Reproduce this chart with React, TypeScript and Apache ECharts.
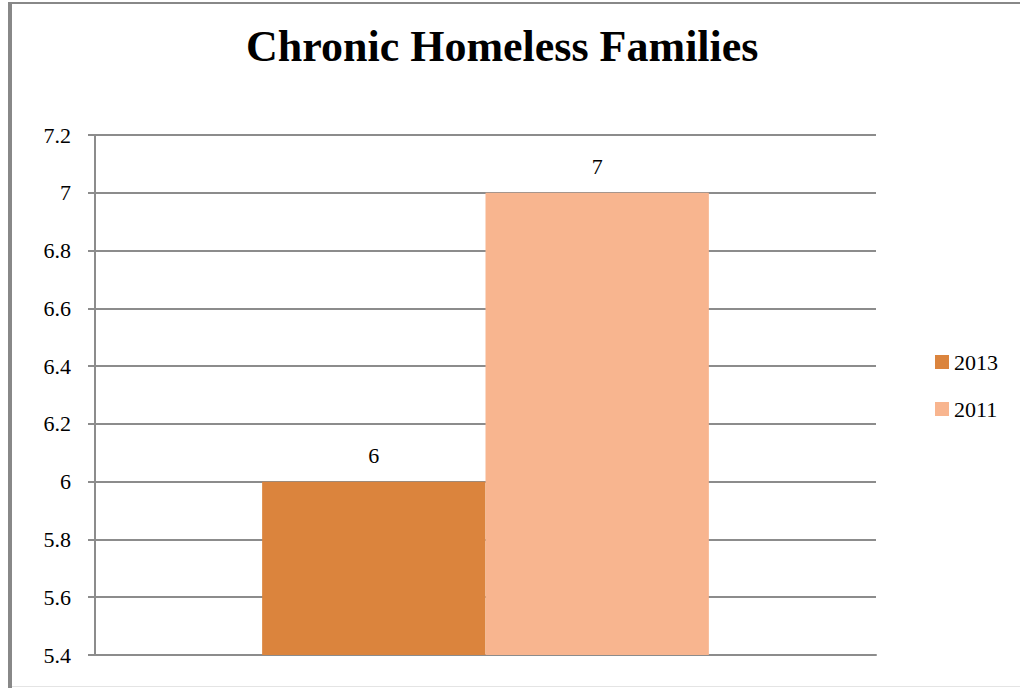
import React, { useEffect, useRef } from "react";
import * as echarts from "echarts";

const categories = [""];
const seriesNames = ["2013", "2011"];
const values2013 = [6];
const values2011 = [7];
const yMin = 5.4;
const yMax = 7.2;
const yInterval = 0.2;

const SERIF = "Liberation Serif";

export default function App() {
  const ref = useRef<HTMLDivElement>(null);
  useEffect(() => {
    if (!ref.current) return;
    const chart = echarts.init(ref.current, null, { renderer: "svg" });
    chart.setOption({
      animation: false,
      backgroundColor: "#ffffff",
      textStyle: { fontFamily: SERIF },
      title: {
        text: "Chronic Homeless Families",
        left: 246,
        top: 24,
        padding: 0,
        textStyle: { fontFamily: SERIF, fontWeight: "bold", fontSize: 44, color: "#000" },
      },
      graphic: [
        { type: "rect", shape: { x: 8, y: 2, width: 4, height: 686 }, style: { fill: "#888888" }, z: 100 },
        { type: "rect", shape: { x: 8, y: 2, width: 1012, height: 2 }, style: { fill: "#888888" }, z: 100 },
        { type: "rect", shape: { x: 12, y: 686, width: 1008, height: 1 }, style: { fill: "#e4e4e4" }, z: 100 },
      ],
      legend: {
        orient: "vertical",
        left: 935,
        top: 351,
        padding: 0,
        itemWidth: 14,
        itemHeight: 14,
        itemGap: 25,
        icon: "rect",
        data: seriesNames,
        textStyle: { fontFamily: SERIF, fontSize: 22, color: "#000" },
      },
      grid: { left: 95, right: 144, top: 135, bottom: 33, containLabel: false },
      xAxis: {
        type: "category",
        data: categories,
        axisLine: { show: true, lineStyle: { color: "#8c8c8c", width: 2 } },
        axisTick: { show: false },
        axisLabel: { show: false },
      },
      yAxis: {
        type: "value",
        min: yMin,
        max: yMax,
        interval: yInterval,
        axisLine: { show: true, lineStyle: { color: "#8c8c8c", width: 2 } },
        axisTick: { show: true, length: 7, lineStyle: { color: "#8c8c8c", width: 2 } },
        splitLine: { show: true, lineStyle: { color: "#8c8c8c", width: 2 } },
        axisLabel: {
          margin: 24,
          fontFamily: SERIF,
          fontSize: 22,
          color: "#000",
          formatter: (v: number) => String(parseFloat(v.toFixed(1))),
        },
      },
      series: [
        {
          name: seriesNames[0],
          type: "bar",
          data: values2013,
          barGap: "0%",
          barCategoryGap: "42.8%",
          itemStyle: { color: "#DB843D" },
          label: { show: true, position: "top", distance: 15, fontFamily: SERIF, fontSize: 22, color: "#000" },
        },
        {
          name: seriesNames[1],
          type: "bar",
          data: values2011,
          barGap: "0%",
          barCategoryGap: "42.8%",
          itemStyle: { color: "#F8B58F" },
          label: { show: true, position: "top", distance: 15, fontFamily: SERIF, fontSize: 22, color: "#000" },
        },
      ],
    });
    return () => chart.dispose();
  }, []);
  return (
    <div style={{ position: "absolute", left: 0, top: 0, width: 1020, height: 688 }}>
      <div ref={ref} style={{ width: 1020, height: 688 }} />
    </div>
  );
}
